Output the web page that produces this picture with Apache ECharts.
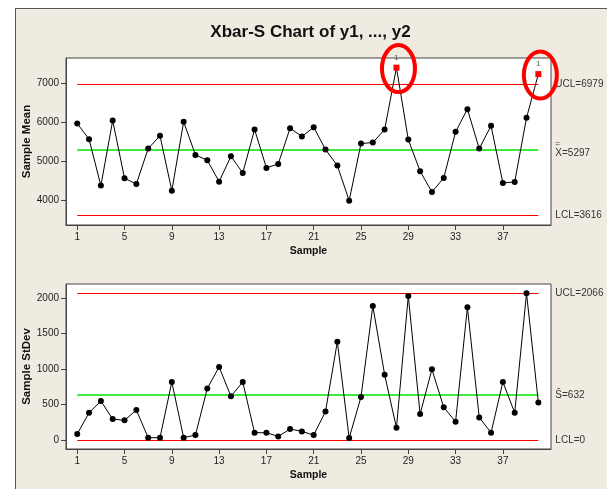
<!DOCTYPE html>
<html>
<head>
<meta charset="utf-8">
<script src="https://cdn.jsdelivr.net/npm/echarts@6/dist/echarts.min.js"></script>
<style>
html,body{margin:0;padding:0;background:#fff;}
#wrap{position:relative;width:607px;height:489px;overflow:hidden;background:#fff;}
#frame{position:absolute;left:15px;top:8px;width:600px;height:490px;background:#EFEBE1;border-left:1px solid #555;border-top:1px solid #555;}
#chart{position:absolute;left:0;top:0;width:607px;height:489px;}
</style>
</head>
<body>
<div id="wrap"><div id="frame"></div><div id="chart"></div></div>
<script>
const samples = [1,2,3,4,5,6,7,8,9,10,11,12,13,14,15,16,17,18,19,20,21,22,23,24,25,26,27,28,29,30,31,32,33,34,35,36,37,38,39,40];
const sampleMeans = [5974,5573,4385,6051,4573,4427,5333,5658,4256,6017,5171,5034,4487,5137,4709,5821,4838,4940,5855,5641,5880,5308,4897,4000,5462,5487,5821,7405,5564,4752,4222,4581,5761,6342,5333,5915,4453,4479,6120,7239];
const sampleStDevs = [82,383,547,293,275,420,31,31,815,31,68,725,1026,613,815,101,101,49,153,120,68,401,1383,26,603,1885,918,171,2026,364,993,458,256,1866,317,101,815,383,2063,528];
const meanLimits = {UCL: 6979, CL: 5297, LCL: 3616};
const sdLimits = {UCL: 2066, CL: 632, LCL: 0};
const xTicks = [1,5,9,13,17,21,25,29,33,37];
const meanTicks = [4000,5000,6000,7000];
const sdTicks = [0,500,1000,1500,2000];
const titleText = 'Xbar-S Chart of y1, ..., y2';

const FONT = 'Liberation Sans';
const RED = '#FF0000', GREEN = '#3DEB3D';

function seriesData(vals, ucl){
  return vals.map((v,i)=>{
    const d = {value:[samples[i], v]};
    if (v > ucl) {
      d.symbol = 'rect'; d.symbolSize = 6;
      d.itemStyle = {color: RED};
      d.label = {show:true, formatter:'1', position:'top', distance:3, fontSize:8, color:'#555', fontFamily:FONT};
    }
    return d;
  });
}
function limitLine(val, color, width, label){
  return [{coord:[samples[0], val], lineStyle:{color:color, width:width, type:'solid'},
           label:{show:true, position:'end', distance:17, formatter:label, color:'#333', fontSize:10, fontFamily:FONT, align:'left',
             rich:{a:{fontSize:8, lineHeight:7, color:'#333', fontFamily:FONT}, b:{fontSize:10, lineHeight:12, color:'#333', fontFamily:FONT}}}},
          {coord:[samples[samples.length-1], val]}];
}
function xAxisCfg(grid){
  return {type:'value', gridIndex:grid, min:0.05, max:41.07, name:'Sample', nameLocation:'middle', nameGap:21, nameMoveOverlap:false,
    nameTextStyle:{fontFamily:FONT, fontWeight:'bold', fontSize:10.5, color:'#111'},
    axisLine:{show:true, onZero:false, lineStyle:{color:'#444'}}, splitLine:{show:false},
    axisTick:{show:true, length:5, customValues:xTicks, lineStyle:{color:'#444'}},
    axisLabel:{customValues:xTicks, fontFamily:FONT, fontSize:10, color:'#222', margin:7, formatter:v=>String(v)}};
}
function yAxisCfg(grid, name, min, max, ticks, gap){
  return {type:'value', gridIndex:grid, min:min, max:max, name:name, nameLocation:'middle', nameGap:gap, nameMoveOverlap:false,
    nameTextStyle:{fontFamily:FONT, fontWeight:'bold', fontSize:11.5, color:'#111'},
    axisLine:{show:true, lineStyle:{color:'#444'}}, splitLine:{show:false},
    axisTick:{show:true, length:5, customValues:ticks, lineStyle:{color:'#444'}},
    axisLabel:{customValues:ticks, fontFamily:FONT, fontSize:10, color:'#222', margin:7, formatter:v=>String(v)}};
}

const chart = echarts.init(document.getElementById('chart'), null, {renderer:'canvas'});
const option = {
  animation:false,
  backgroundColor:'transparent',
  grid:[
    {left:66, top:58, width:485, height:167, show:true, backgroundColor:'#fff', borderColor:'#444', borderWidth:1},
    {left:66, top:284, width:485, height:165, show:true, backgroundColor:'#fff', borderColor:'#444', borderWidth:1}
  ],
  xAxis:[xAxisCfg(0), xAxisCfg(1)],
  yAxis:[yAxisCfg(0,'Sample Mean',3377,7651,meanTicks,33), yAxisCfg(1,'Sample StDev',-128,2194,sdTicks,33)],
  series:[
    {type:'line', xAxisIndex:0, yAxisIndex:0, data:seriesData(sampleMeans, meanLimits.UCL), symbol:'circle', symbolSize:6,
     lineStyle:{color:'#000', width:1}, itemStyle:{color:'#000'}, z:5,
     markLine:{silent:true, symbol:'none', animation:false, data:[
       limitLine(meanLimits.UCL, RED, 1.2, 'UCL='+meanLimits.UCL),
       limitLine(meanLimits.CL, GREEN, 2, '{a|=}\n{b|X='+meanLimits.CL+'}'),
       limitLine(meanLimits.LCL, RED, 1.2, 'LCL='+meanLimits.LCL)]}},
    {type:'line', xAxisIndex:1, yAxisIndex:1, data:seriesData(sampleStDevs, sdLimits.UCL), symbol:'circle', symbolSize:6,
     lineStyle:{color:'#000', width:1}, itemStyle:{color:'#000'}, z:5,
     markLine:{silent:true, symbol:'none', animation:false, data:[
       limitLine(sdLimits.UCL, RED, 1.2, 'UCL='+sdLimits.UCL),
       limitLine(sdLimits.CL, GREEN, 2, 'S\u0304='+sdLimits.CL),
       limitLine(sdLimits.LCL, RED, 1.2, 'LCL='+sdLimits.LCL)]}}
  ],
  graphic:[
    {type:'text', x:310.5, y:32, z:10, style:{text:titleText, fontFamily:FONT, fontWeight:'bold', fontSize:17, fill:'#111', align:'center', verticalAlign:'middle'}}
  ]
};
chart.setOption(option);

// red annotation circles around the out-of-control means
const circles = [];
sampleMeans.forEach((v,i)=>{
  if (v > meanLimits.UCL) {
    const p = chart.convertToPixel({xAxisIndex:0, yAxisIndex:0}, [samples[i], v]);
    circles.push({type:'ellipse', z:20, shape:{cx:p[0]+2, cy:p[1]+1, rx:16.5, ry:23.5},
      style:{fill:'none', stroke:RED, lineWidth:4}});
  }
});
chart.setOption({graphic: option.graphic.concat(circles)});
</script>
</body>
</html>
